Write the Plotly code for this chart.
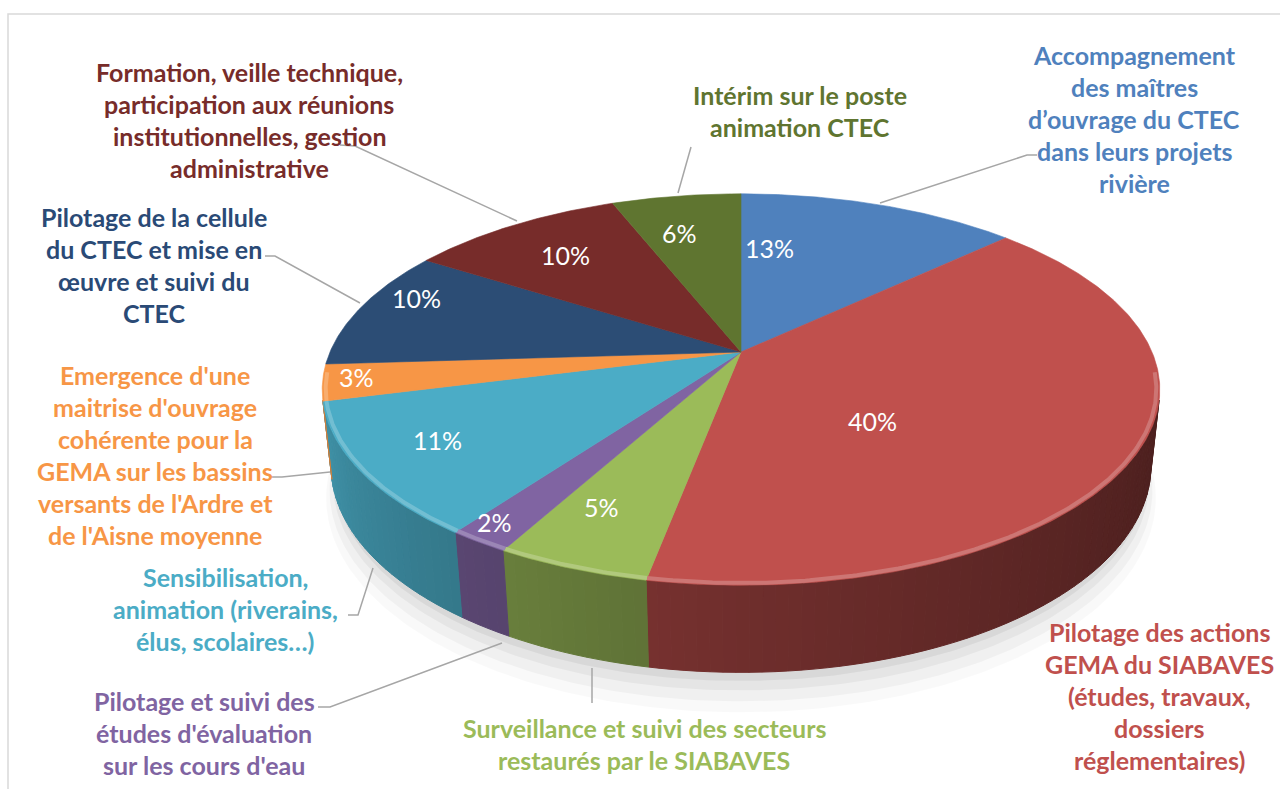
import numpy as np
import plotly.graph_objects as go

# ---------------- data ----------------
categories = [
    "Accompagnement des maîtres d’ouvrage du CTEC dans leurs projets rivière",
    "Pilotage des actions GEMA du SIABAVES (études, travaux, dossiers réglementaires)",
    "Surveillance et suivi des secteurs restaurés par le SIABAVES",
    "Pilotage et suivi des études d'évaluation sur les cours d'eau",
    "Sensibilisation, animation (riverains, élus, scolaires…)",
    "Emergence d'une maitrise d'ouvrage cohérente pour la GEMA sur les bassins versants de l'Ardre et de l'Aisne moyenne",
    "Pilotage de la cellule du CTEC et mise en œuvre et suivi du CTEC",
    "Formation, veille technique, participation aux réunions institutionnelles, gestion administrative",
    "Intérim sur le poste animation CTEC",
]
values = [13, 40, 5, 2, 11, 3, 10, 10, 6]
label_lines = [
    ["Accompagnement", "des maîtres", "d’ouvrage du CTEC", "dans leurs projets", "rivière"],
    ["Pilotage des actions", "GEMA du SIABAVES", "(études, travaux,", "dossiers", "réglementaires)"],
    ["Surveillance et suivi des secteurs", "restaurés par le SIABAVES"],
    ["Pilotage et suivi des", "études d'évaluation", "sur les cours d'eau"],
    ["Sensibilisation,", "animation (riverains,", "élus, scolaires…)"],
    ["Emergence d'une", "maitrise d'ouvrage", "cohérente pour la", "GEMA sur les bassins",
     "versants de l'Ardre et", "de l'Aisne moyenne"],
    ["Pilotage de la cellule", "du CTEC et mise en", "œuvre et suivi du", "CTEC"],
    ["Formation, veille technique,", "participation aux réunions", "institutionnelles, gestion",
     "administrative"],
    ["Intérim sur le poste", "animation CTEC"],
]

# ---------------- style ----------------
slice_colors = ["#4F81BD", "#C0504D", "#9BBB59", "#8064A2", "#4BACC6",
                "#F79646", "#2C4D75", "#772C2A", "#5F7530"]
text_colors = ["#4F81BD", "#C0504D", "#9BBB59", "#8064A2", "#4BACC6",
               "#F79646", "#2A4A76", "#772C2A", "#5F7530"]
# label block positions (center x, first line y) in page pixels
label_pos = [(1134, 55), (1159, 632), (644, 728), (204, 701), (225, 577),
             (155, 375), (154, 217), (249, 72), (800, 95)]
pct_pos = [(769, 248), (872, 421), (601, 507), (494, 522), (437, 440),
           (356, 377), (416, 298), (565, 255), (679, 233)]
leaders = [
    [(880, 203), (1027, 155), (1037, 155)],
    None,
    [(592, 668), (592, 703)],
    [(318, 707), (330, 707), (502, 643)],
    [(348, 615), (358, 615), (373, 568)],
    [(271, 477), (282, 477), (330, 472)],
    [(265, 256), (275, 256), (360, 303)],
    [(340, 145), (355, 146), (517, 221)],
    [(678, 193), (691, 147)],
]
LINE_H = 32
FONT = "Lato, 'Open Sans', sans-serif"

# ---------------- 3D projection ----------------
CX, CY = 741, 352
F, DIST, PHI = 1903.0, 4.63, np.radians(27.3)
H = 0.211
SP, CP = np.sin(PHI), np.cos(PHI)


def proj(a_deg, r, z):
    a = np.radians(a_deg)
    x = r * np.sin(a)
    y = -r * np.cos(a)
    depth = DIST - (y * CP + z * SP)
    return CX + F * x / depth, CY + F * (y * SP - z * CP) / depth


def hex2rgb(h):
    h = h.lstrip("#")
    return [int(h[i:i + 2], 16) for i in (0, 2, 4)]


def shade(h, f):
    r, g, b = hex2rgb(h)
    return "rgb(%d,%d,%d)" % (min(255, r * f), min(255, g * f), min(255, b * f))


def tint(h, t):
    r, g, b = hex2rgb(h)
    return "rgb(%d,%d,%d)" % (r + (255 - r) * t, g + (255 - g) * t, b + (255 - b) * t)


total = float(sum(values))
bounds = np.concatenate([[0], np.cumsum(values)]) / total * 360.0
y_sil = 1.0 / (DIST * CP)
vis0 = np.degrees(np.arccos(-y_sil))
vis1 = 360 - vis0

fig = go.Figure()

# soft shadow under the pie
for rr, dz, op in [(1.02, 0.085, 0.025), (1.01, 0.065, 0.035),
                   (1.0, 0.045, 0.045), (0.995, 0.025, 0.055)]:
    aa = np.linspace(0, 360, 361)
    xs, ys = proj(aa, rr, -H - dz)
    fig.add_trace(go.Scatter(x=xs, y=ys, fill="toself", mode="lines",
                             line=dict(width=0), fillcolor="rgba(0,0,0,%.3f)" % op,
                             hoverinfo="skip", showlegend=False))


def wall_factor(a):
    t = np.clip((a - vis0) / (vis1 - vis0), 0, 1)
    return 0.40 + 0.45 * t ** 1.3


# side walls (strips for shading)
step = 1.5
for i, col in enumerate(slice_colors):
    a0, a1 = max(bounds[i], vis0), min(bounds[i + 1], vis1)
    if a1 <= a0:
        continue
    edges = np.arange(a0, a1, step).tolist() + [a1]
    for s0, s1 in zip(edges[:-1], edges[1:]):
        aa = np.linspace(s0, s1, 4)
        xt, yt = proj(aa, 1.0, 0.0)
        xb, yb = proj(aa[::-1], 1.0, -H)
        c = shade(col, wall_factor((s0 + s1) / 2))
        fig.add_trace(go.Scatter(x=np.r_[xt, xb, xt[0]], y=np.r_[yt, yb, yt[0]],
                                 fill="toself", mode="lines", fillcolor=c,
                                 line=dict(color=c, width=1),
                                 hoverinfo="skip", showlegend=False))

# top faces
for i, col in enumerate(slice_colors):
    aa = np.linspace(bounds[i], bounds[i + 1], max(3, int((bounds[i + 1] - bounds[i]) * 2)))
    xs, ys = proj(aa, 1.0, 0.0)
    x0, y0 = proj(0.0, 0.0, 0.0)
    fig.add_trace(go.Scatter(x=np.r_[x0, xs, x0], y=np.r_[y0, ys, y0], fill="toself",
                             mode="lines", fillcolor=col, line=dict(color=col, width=0.6),
                             hoverinfo="skip", showlegend=False))

# bevel highlight along the front rim
for i, col in enumerate(slice_colors):
    a0, a1 = max(bounds[i], vis0 - 8), min(bounds[i + 1], vis1 + 8)
    if a1 <= a0:
        continue
    aa = np.linspace(a0, a1, max(3, int((a1 - a0) * 2)))
    xs, ys = proj(aa, 0.992, 0.0)
    fig.add_trace(go.Scatter(x=xs, y=ys, mode="lines",
                             line=dict(color=tint(col, 0.22), width=4),
                             hoverinfo="skip", showlegend=False))

# leader lines
for pts in leaders:
    if pts is None:
        continue
    fig.add_trace(go.Scatter(x=[p[0] for p in pts], y=[p[1] for p in pts], mode="lines",
                             line=dict(color="#A6A6A6", width=1.5),
                             hoverinfo="skip", showlegend=False))

annotations = []
# percentage labels
for v, (px, py) in zip(values, pct_pos):
    annotations.append(dict(x=px, y=py, xref="x", yref="y", text="%d%%" % v,
                            showarrow=False, xanchor="center", yanchor="middle",
                            font=dict(family=FONT, size=25, color="white")))
# category labels
for lines, (lx, ly), tc in zip(label_lines, label_pos, text_colors):
    for j, ln in enumerate(lines):
        annotations.append(dict(x=lx, y=ly + j * LINE_H, xref="x", yref="y",
                                text="<b>%s</b>" % ln, showarrow=False,
                                xanchor="center", yanchor="middle",
                                font=dict(family=FONT, size=25, color=tc)))

fig.update_layout(
    width=1280, height=789,
    margin=dict(l=0, r=0, t=0, b=0),
    paper_bgcolor="white", plot_bgcolor="white",
    xaxis=dict(range=[0, 1280], visible=False, fixedrange=True),
    yaxis=dict(range=[789, 0], visible=False, fixedrange=True),
    annotations=annotations,
    shapes=[dict(type="path", path="M 8 800 L 8 14 L 1290 14", xref="x", yref="y",
                 line=dict(color="#D9D9D9", width=1.5))],
    showlegend=False,
)

fig.write_html("out.html", config={"displayModeBar": False},
               post_script="document.body.style.margin='0';document.body.style.overflow='hidden';")
